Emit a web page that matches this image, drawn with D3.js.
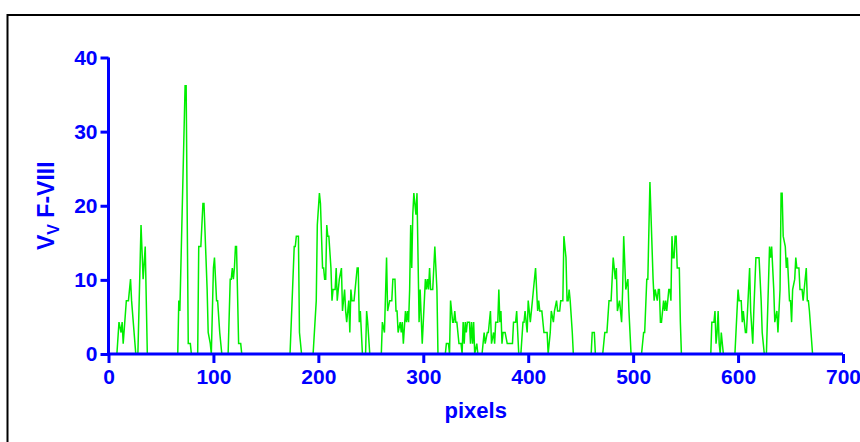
<!DOCTYPE html>
<html>
<head>
<meta charset="utf-8">
<script src="https://cdn.jsdelivr.net/npm/d3@7/dist/d3.min.js"></script>
<style>
  html, body { margin: 0; padding: 0; background: #fff; }
  svg { display: block; }
  text { font-family: "Liberation Sans", Arial, sans-serif; font-weight: bold; }
</style>
</head>
<body>
<svg id="chart" width="860" height="442"></svg>
<script>
// Profile position along the scan (pixels)
const positions = [
  0, 8, 10, 12, 13, 14, 17, 19, 21, 22, 26, 28, 31, 33, 35, 37,
  66, 67, 68, 73, 74, 76, 78, 79,
  85, 86, 88, 90, 91, 94, 95, 97, 98, 100, 101, 103, 104, 106, 108,
  114, 116, 117, 118, 119, 120, 121, 122, 124, 126, 127,
  173, 177, 178, 179, 181, 182, 184,
  195, 198, 199, 201, 202, 204, 205, 206, 207, 208, 209, 210, 212, 213, 214, 216,
  217, 218, 219, 220, 222, 223, 225, 226, 227, 229, 230, 231, 232, 234, 237, 238,
  239, 240, 242, 245, 246, 247, 249,
  260, 261, 263, 265, 266, 268, 270, 271, 273, 274, 275, 276, 278, 279, 280, 281,
  283, 284, 285, 286, 287, 288, 289, 290, 291, 293, 294, 295, 296, 297, 299, 300,
  302, 303, 304, 305, 306, 307, 309, 311, 313, 314,
  321, 322, 324, 325, 326, 328, 329, 330, 331, 332, 334, 336, 337, 338, 339, 340,
  341, 342, 344, 345, 346, 347, 348, 349, 351, 352,
  356, 358, 359, 361, 362, 364, 365, 367, 368, 369, 371, 372, 373, 374, 375, 376,
  378, 380, 385, 386, 388, 389, 391,
  393, 395, 396, 397, 399, 400, 401, 402, 404, 405, 407, 408, 409, 410, 411, 413,
  415, 418, 419, 421, 422, 424, 425, 427, 428, 430, 431, 433, 434, 436, 437, 438,
  439, 440, 442, 443,
  460, 461, 463, 464,
  471, 473, 475, 477, 479, 481, 483, 484, 485, 487, 489, 490, 491, 493, 495, 496, 498,
  508, 510, 511, 513, 514, 516, 519, 520, 521, 523, 524, 525, 526, 527, 529, 530,
  531, 532, 533, 534, 535, 536, 537, 538, 539, 540, 541, 542, 544, 545, 546,
  574, 575, 577, 578, 579, 580, 581, 582, 583, 584, 585, 586,
  597, 599, 600, 601, 603, 604, 605, 606, 607, 608, 610, 611, 612, 614, 615, 617,
  620, 622, 623, 625,
  627, 630, 631, 632, 634, 635, 637, 638, 640, 641, 642, 643, 645, 646, 647, 648,
  649, 650, 651, 652, 654, 655, 656, 658, 659, 661, 662, 663, 665, 666, 667, 668, 671
];

// Volume fraction of F-VIII at each position
const vvValues = [
  0, 0, 4.3, 2.9, 4.3, 1.4, 7.2, 7.2, 10.1, 7.2, 0, 0, 17.4, 10.1, 14.5, 0,
  0, 7.2, 5.8, 36.2, 36.2, 1.4, 1.4, 0,
  0, 14.5, 14.5, 20.3, 20.3, 8.7, 2.9, 1.4, 0, 11.6, 13.0, 7.2, 7.2, 2.9, 0,
  0, 10.1, 10.1, 11.6, 10.1, 11.6, 14.5, 14.5, 1.4, 1.4, 0,
  0, 14.5, 14.5, 15.9, 15.9, 2.9, 0,
  0, 7.2, 17.4, 21.7, 20.3, 11.6, 11.6, 10.1, 10.1, 17.4, 15.9, 15.9, 11.6, 7.2, 8.7, 8.7,
  11.6, 7.2, 8.7, 10.1, 11.6, 5.8, 8.7, 5.8, 4.3, 7.2, 2.9, 8.7, 7.2, 7.2, 11.6, 11.6,
  4.3, 5.8, 0, 0, 5.8, 4.3, 0,
  0, 4.3, 2.9, 13.0, 5.8, 7.2, 7.2, 10.1, 10.1, 5.8, 5.8, 2.9, 4.3, 2.9, 4.3, 1.4,
  5.8, 4.3, 5.8, 4.3, 8.7, 17.4, 11.6, 18.8, 21.7, 18.8, 21.7, 13.0, 4.3, 8.7, 1.4, 4.3,
  10.1, 8.7, 10.1, 8.7, 11.6, 8.7, 8.7, 14.5, 8.7, 0,
  0, 1.4, 1.4, 0, 7.2, 4.3, 4.3, 5.8, 4.3, 4.3, 1.4, 1.4, 0, 4.3, 1.4, 4.3,
  2.9, 4.3, 4.3, 1.4, 4.3, 1.4, 4.3, 0, 1.4, 0,
  0, 2.9, 1.4, 2.9, 2.9, 5.8, 1.4, 2.9, 1.4, 4.3, 4.3, 8.7, 4.3, 5.8, 1.4, 2.9,
  2.9, 1.4, 1.4, 4.3, 4.3, 5.8, 0,
  0, 4.3, 4.3, 5.8, 2.9, 7.2, 5.8, 4.3, 7.2, 8.7, 11.6, 8.7, 5.8, 7.2, 5.8, 5.8,
  2.9, 2.9, 0, 2.9, 5.8, 4.3, 5.8, 7.2, 5.8, 5.8, 7.2, 7.2, 15.9, 13.0, 7.2, 7.2,
  8.7, 7.2, 2.9, 0,
  0, 2.9, 2.9, 0,
  0, 2.9, 2.9, 7.2, 7.2, 13.0, 10.1, 11.6, 5.8, 7.2, 4.3, 8.7, 15.9, 8.7, 10.1, 5.8, 0,
  0, 2.9, 2.9, 10.1, 10.1, 23.2, 10.1, 7.2, 8.7, 7.2, 8.7, 8.7, 4.3, 4.3, 7.2, 5.8,
  7.2, 5.8, 7.2, 8.7, 8.7, 7.2, 15.9, 13.0, 13.0, 15.9, 15.9, 11.6, 11.6, 4.3, 0,
  0, 4.3, 4.3, 5.8, 1.4, 2.9, 5.8, 1.4, 0, 2.9, 1.4, 0,
  0, 5.8, 8.7, 7.2, 7.2, 4.3, 5.8, 4.3, 2.9, 2.9, 8.7, 11.6, 5.8, 1.4, 5.8, 13.0,
  13.0, 7.2, 2.9, 0,
  0, 14.5, 13.0, 14.5, 8.7, 4.3, 5.8, 2.9, 8.7, 21.7, 21.7, 15.9, 14.5, 11.6, 13.0, 10.1,
  7.2, 7.2, 4.3, 8.7, 10.1, 13.0, 11.6, 11.6, 8.7, 8.7, 7.2, 8.7, 11.6, 7.2, 7.2, 5.8, 0
];

const xTicks = [0, 100, 200, 300, 400, 500, 600, 700];
const yTicks = [0, 10, 20, 30, 40];

const axisColor = "#0000ff";
const lineColor = "#00ee00";

const svg = d3.select("#chart");

// Outer frame: top and left edges
svg.append("line").attr("x1", 7).attr("x2", 860).attr("y1", 15).attr("y2", 15)
  .attr("stroke", "#000").attr("stroke-width", 2);
svg.append("line").attr("x1", 7.5).attr("x2", 7.5).attr("y1", 14).attr("y2", 442)
  .attr("stroke", "#000").attr("stroke-width", 2);

const x = d3.scaleLinear().domain([0, 700]).range([108.5, 843]);
const y = d3.scaleLinear().domain([0, 40]).range([354, 57.5]);

const data = positions.map((p, i) => ({ p, v: vvValues[i] }));

// Profile trace
svg.append("path")
  .datum(data)
  .attr("fill", "none")
  .attr("stroke", lineColor)
  .attr("stroke-width", 1.5)
  .attr("stroke-linejoin", "miter")
  .attr("d", d3.line().x(d => x(d.p)).y(d => y(d.v)));

// Axes
const xAxis = svg.append("g")
  .attr("transform", `translate(0,${y(0)})`)
  .call(d3.axisBottom(x).tickValues(xTicks).tickSize(9).tickPadding(6).tickFormat(d3.format("d")));
const yAxis = svg.append("g")
  .attr("transform", `translate(${x(0)},0)`)
  .call(d3.axisLeft(y).tickValues(yTicks).tickSize(8).tickPadding(3).tickFormat(d3.format("d")));

[xAxis, yAxis].forEach(g => {
  g.select(".domain").attr("stroke", axisColor).attr("stroke-width", 3);
  g.selectAll(".tick line").attr("stroke", axisColor).attr("stroke-width", 3);
  g.selectAll(".tick text")
    .attr("fill", axisColor)
    .style("font-size", "21px")
    .style("font-weight", "bold")
    .style("font-family", "'Liberation Sans', Arial, sans-serif");
});
xAxis.select(".domain").attr("d", `M${x(0)},0H${x(700)}`);
yAxis.select(".domain").attr("d", `M0,${y(40)}V${y(0)}`);

// Axis titles
svg.append("text")
  .attr("x", (x(0) + x(700)) / 2)
  .attr("y", 418)
  .attr("text-anchor", "middle")
  .attr("fill", axisColor)
  .style("font-size", "22px")
  .text("pixels");

const yTitle = svg.append("text")
  .attr("transform", `translate(54,${(y(0) + y(40)) / 2}) rotate(-90)`)
  .attr("text-anchor", "middle")
  .attr("fill", axisColor)
  .style("font-size", "23px");
yTitle.append("tspan").text("V");
yTitle.append("tspan").attr("dy", 5).style("font-size", "16px").text("V");
yTitle.append("tspan").attr("dy", -5).text(" F-VIII");
</script>
</body>
</html>
